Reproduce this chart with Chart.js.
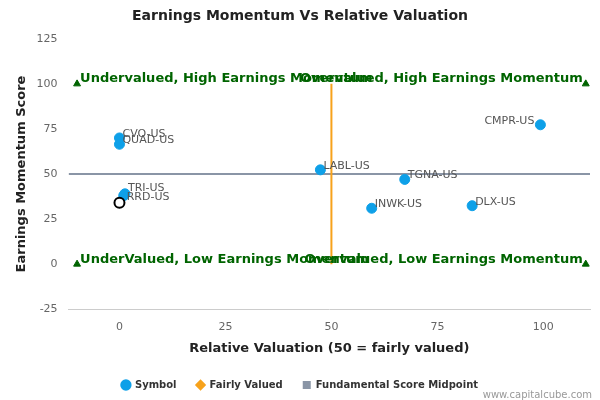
<!DOCTYPE html><html><head><script src="https://cdn.jsdelivr.net/npm/chart.js@4"></script>
<style>body{margin:0;background:#fff}#w{width:600px;height:400px;position:relative}</style></head><body><div id="w"><canvas id="c"></canvas></div>
<script>
const symbols=['CVO-US','QUAD-US','TRI-US','RRD-US','LABL-US','TGNA-US','INWK-US','DLX-US','CMPR-US'];
const valuation=[0,0,1.3,1,47.4,67.3,59.5,83.2,99.3];
const momentum=[70,66.5,39,38,52.3,47,31,32.4,77.3];
const highlight={x:0,y:34};
const fairX=[50,50], fairY=[0,100];
const midX=[-12,111], midY=[50,50];
const cornerX=[-10,110,-10,110], cornerY=[100,100,0,0];
const xTicks=[0,25,50,75,100], yTicks=[-25,0,25,50,75,100,125];
const quadText=[['Undervalued, High Earnings Momentum',-10,100,'left'],['Overvalued, High Earnings Momentum',110,100,'right'],['UnderValued, Low Earnings Momentum',-10,0,'left'],['Overvalued, Low Earnings Momentum',110,0,'right']];
const F='"DejaVu Sans", sans-serif';
const labelsPlugin={id:'lbl',afterDatasetsDraw(ch){const c=ch.ctx,xs=ch.scales.x,ys=ch.scales.y;c.save();c.font='11px '+F;c.fillStyle='#555';
symbols.forEach((s,i)=>{const px=xs.getPixelForValue(valuation[i]),py=ys.getPixelForValue(momentum[i]);c.textAlign=s==='CMPR-US'?'right':'left';
let dx=s==='CMPR-US'?-6:3;let dy=s==='TRI-US'?-6:(s==='RRD-US'?2:-4);c.fillText(s,px+dx,py+dy);});
c.font='bold 13px '+F;c.fillStyle='#006400';quadText.forEach(q=>{c.textAlign=q[3];c.fillText(q[0],xs.getPixelForValue(q[1])+(q[3]==='left'?3:-3),ys.getPixelForValue(q[2])-5);});
c.font='10px '+F;c.fillStyle='#999';c.textAlign='right';c.fillText('www.capitalcube.com',592,395);c.restore();}};
new Chart(document.getElementById('c'),{type:'scatter',data:{datasets:[
{label:'Symbol',data:valuation.map((v,i)=>({x:v,y:momentum[i]})),backgroundColor:'#0ea0e8',borderColor:'#0ea0e8',pointRadius:5,order:1},
{label:'Fairly Valued',type:'line',data:fairX.map((v,i)=>({x:v,y:fairY[i]})),borderColor:'#f7a21b',backgroundColor:'#f7a21b',borderWidth:2,pointRadius:0,pointStyle:'rectRot',order:3},
{label:'Fundamental Score Midpoint',type:'line',data:midX.map((v,i)=>({x:v,y:midY[i]})),borderColor:'#8a95a6',backgroundColor:'#8a95a6',borderWidth:2,pointRadius:0,pointStyle:'rect',order:3},
{label:'hl',data:[highlight],backgroundColor:'#fff',borderColor:'#000',borderWidth:2,pointRadius:5,order:0},
{label:'corner',data:cornerX.map((v,i)=>({x:v,y:cornerY[i]})),pointStyle:'triangle',backgroundColor:'#006400',borderColor:'#006400',pointRadius:4,order:2}
]},options:{animation:false,responsive:true,maintainAspectRatio:false,layout:{padding:{top:8,right:10,left:10,bottom:0}},
plugins:{title:{display:true,text:'Earnings Momentum Vs Relative Valuation',font:{family:F,size:14,weight:'bold'},color:'#222',padding:{top:0,bottom:14}},
tooltip:{enabled:false},legend:{position:'bottom',labels:{usePointStyle:true,boxWidth:8,boxHeight:8,font:{family:F,size:10,weight:'bold'},color:'#333',padding:20,
generateLabels(ch){return ch.data.datasets.slice(0,3).map((d,i)=>({text:d.label,datasetIndex:i,fillStyle:d.backgroundColor,strokeStyle:d.borderColor,lineWidth:0,pointStyle:['circle','rectRot','rect'][i],fontColor:'#333'}));}}}},
scales:{x:{type:'linear',min:-12,max:111,afterBuildTicks:a=>{a.ticks=xTicks.map(v=>({value:v}));},grid:{display:false},border:{color:'#ccc'},ticks:{color:'#666',font:{family:F,size:11}},title:{display:true,text:'Relative Valuation (50 = fairly valued)',font:{family:F,size:13,weight:'bold'},color:'#222'}},
y:{min:-25,max:125,afterBuildTicks:a=>{a.ticks=yTicks.map(v=>({value:v}));},grid:{display:false},border:{display:false},ticks:{color:'#666',font:{family:F,size:11}},title:{display:true,text:'Earnings Momentum Score',font:{family:F,size:13,weight:'bold'},color:'#222'}}}},
plugins:[labelsPlugin]});
</script></body></html>
